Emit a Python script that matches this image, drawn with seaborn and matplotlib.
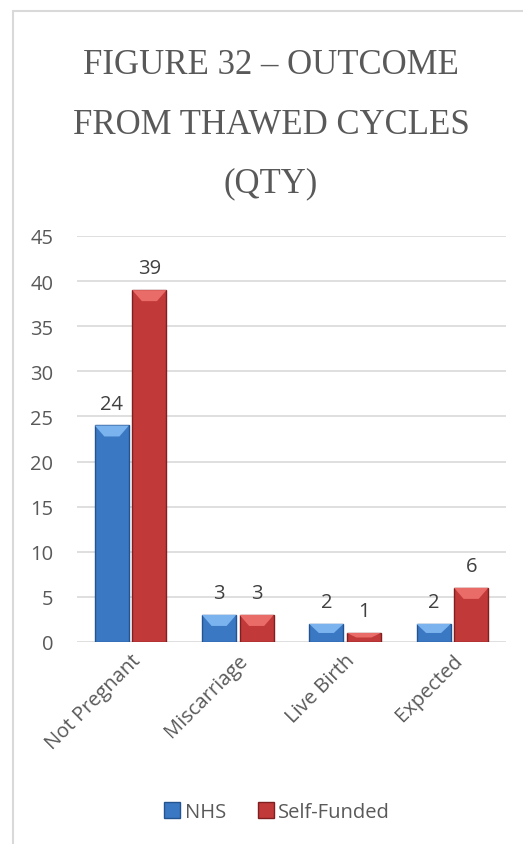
import matplotlib
matplotlib.use("Agg")
import matplotlib.pyplot as plt
from matplotlib.patches import Polygon, Rectangle
from matplotlib.lines import Line2D
import seaborn as sns
import pandas as pd

categories = ["Not Pregnant", "Miscarriage", "Live Birth", "Expected"]
nhs = [24, 3, 2, 2]
self_funded = [39, 3, 1, 6]
series = ["NHS", "Self-Funded"]
yticks = [0, 5, 10, 15, 20, 25, 30, 35, 40, 45]

df = pd.DataFrame({
    "Outcome": categories * 2,
    "Count": nhs + self_funded,
    "Funding": [series[0]] * len(categories) + [series[1]] * len(categories),
})

face = {"NHS": "#3b78c3", "Self-Funded": "#c2393a"}
edge = {"NHS": "#24548f", "Self-Funded": "#7f1f1f"}
bevel = {"NHS": "#7ab3ee", "Self-Funded": "#ea6c69"}
text_col = "#595959"
grid_col = "#d9d9d9"

sns.set_theme(style="white")
plt.rcParams["font.family"] = ["Open Sans", "DejaVu Sans"]

fig = plt.figure(figsize=(5.23, 8.45), dpi=100)
ax = fig.add_axes([77 / 523, 1 - 643 / 845, 429 / 523, 406 / 845])

sns.barplot(data=df, x="Outcome", y="Count", hue="Funding", order=categories,
            hue_order=series, palette=face, width=0.70, gap=0.09,
            saturation=1, legend=False, ax=ax, zorder=3)

ax.set_ylim(0, 45)
ax.set_xlim(-0.5, len(categories) - 0.5)
ax.set_yticks(yticks)
ax.yaxis.grid(True, color=grid_col, linewidth=1.2, zorder=0)
ax.set_axisbelow(True)
for s in ax.spines.values():
    s.set_visible(False)
ax.set_xlabel("")
ax.set_ylabel("")
ax.tick_params(axis="y", length=0, pad=17, labelsize=14.5, labelcolor=text_col)
ax.tick_params(axis="x", length=0, pad=6, labelsize=14.5, labelcolor=text_col)
plt.setp(ax.get_xticklabels(), rotation=45, ha="right", rotation_mode="anchor")

# bevelled top on each bar, plus value labels
px_to_data = 45 / 406
bars = ax.patches
n = len(categories)
for i, p in enumerate(bars[: 2 * n]):
    key = series[i // n]
    p.set_edgecolor(edge[key])
    p.set_linewidth(1.0)
    x0, w, h = p.get_x(), p.get_width(), p.get_height()
    bh = min(11 * px_to_data, h * 0.5)
    inset = w * 0.28
    ax.add_patch(Polygon([[x0, h], [x0 + w, h], [x0 + w - inset, h - bh], [x0 + inset, h - bh]],
                         closed=True, facecolor=bevel[key], edgecolor="none", zorder=4))
    ax.text(x0 + w / 2, h + 1.3, f"{int(h)}", ha="center", va="bottom",
            fontsize=14.5, color="#404040", zorder=5)

# Title
fig.text(0.518, 1 - 125 / 845, "FIGURE 32 – OUTCOME\nFROM THAWED CYCLES\n(QTY)",
         ha="center", va="center", fontsize=25, color=text_col,
         family=["Liberation Serif", "DejaVu Serif"], linespacing=2.05)

# Legend
handles = [Rectangle((0, 0), 1, 1, facecolor=face[s], edgecolor=edge[s]) for s in series]
fig.legend(handles, series, loc="center", bbox_to_anchor=(0.53, 1 - 813 / 845), ncol=2,
           frameon=False, fontsize=14.5, labelcolor=text_col, handlelength=0.8,
           handleheight=0.8, handletextpad=0.2, columnspacing=1.6)

# Chart frame
fig.add_artist(Line2D([13 / 523, 13 / 523], [0, 1 - 12 / 845], transform=fig.transFigure,
                      color=grid_col, linewidth=1.5))
fig.add_artist(Line2D([13 / 523, 1], [1 - 12 / 845, 1 - 12 / 845], transform=fig.transFigure,
                      color=grid_col, linewidth=1.5))

fig.savefig("out.png", dpi=100)
